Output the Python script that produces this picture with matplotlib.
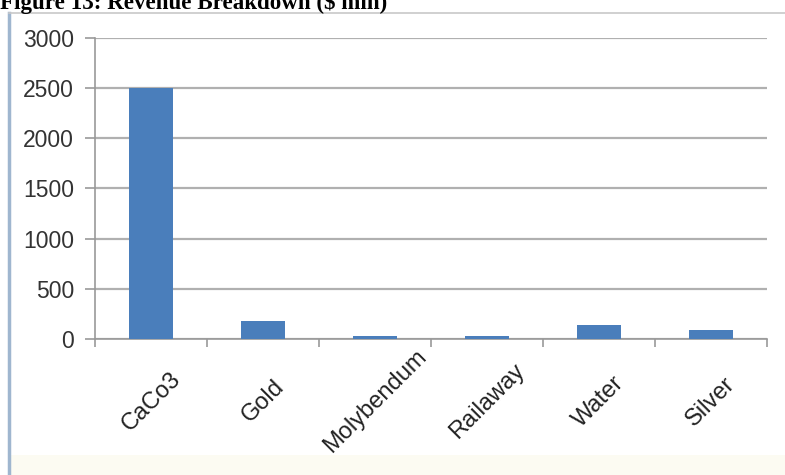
import matplotlib
matplotlib.use("Agg")
import matplotlib.pyplot as plt
import numpy as np
from matplotlib.patches import Rectangle
from matplotlib.lines import Line2D

# data
categories = ["CaCo3", "Gold", "Molybendum", "Railaway", "Water", "Silver"]
revenue = [2500, 180, 30, 30, 140, 85]
yticks = [0, 500, 1000, 1500, 2000, 2500, 3000]

plt.rcParams["font.family"] = ["Liberation Sans", "DejaVu Sans"]

fig = plt.figure(figsize=(7.85, 4.75), dpi=100)
ax = fig.add_axes([0.121, 0.2863, 0.856, 0.634])

# chart frame (light border on the left and top, cream strip at the bottom)
fig.patches.append(Rectangle((0.012, 0.0), 0.988, 0.043, transform=fig.transFigure,
                             facecolor="#fcfbf2", edgecolor="none", zorder=0))
fig.lines.append(Line2D([0.012, 0.012], [0.0, 0.973], transform=fig.transFigure,
                        color="#9fb6cf", linewidth=2.5))
fig.lines.append(Line2D([0.012, 1.0], [0.973, 0.973], transform=fig.transFigure,
                        color="#c8c8c8", linewidth=1.2))

x = np.arange(len(categories))
ax.bar(x, revenue, width=0.4, color="#4a7ebb", zorder=3)

ax.set_xlim(-0.5, len(categories) - 0.5)
ax.set_ylim(0, 3000)
ax.set_yticks(yticks)
ax.set_yticklabels([str(v) for v in yticks], fontsize=16.5, color="#333333")
ax.yaxis.grid(True, color="#b0b0b0", linewidth=1.6, zorder=0)
ax.set_axisbelow(True)

# category ticks sit at the boundaries, labels centred under the bars
ax.set_xticks(np.arange(len(categories) + 1) - 0.5)
ax.set_xticklabels([])
ax.set_xticks(x, minor=True)
ax.set_xticklabels(categories, minor=True, rotation=45, ha="center",
                   va="center", fontsize=17, color="#222222")
ax.tick_params(axis="x", which="minor", length=0, pad=45)
ax.tick_params(axis="x", which="major", length=6, width=1.2, color="#999999")
ax.tick_params(axis="y", length=7, width=1.2, color="#999999", pad=8)

for side in ["top", "right"]:
    ax.spines[side].set_visible(False)
for side in ["left", "bottom"]:
    ax.spines[side].set_color("#999999")
    ax.spines[side].set_linewidth(1.2)

fig.text(0.0, 0.981, "Figure 13: Revenue Breakdown (\\$ mln)", fontsize=16.6,
         fontweight="bold", family="Liberation Serif", va="baseline", ha="left")

fig.savefig("out.png", dpi=100)
